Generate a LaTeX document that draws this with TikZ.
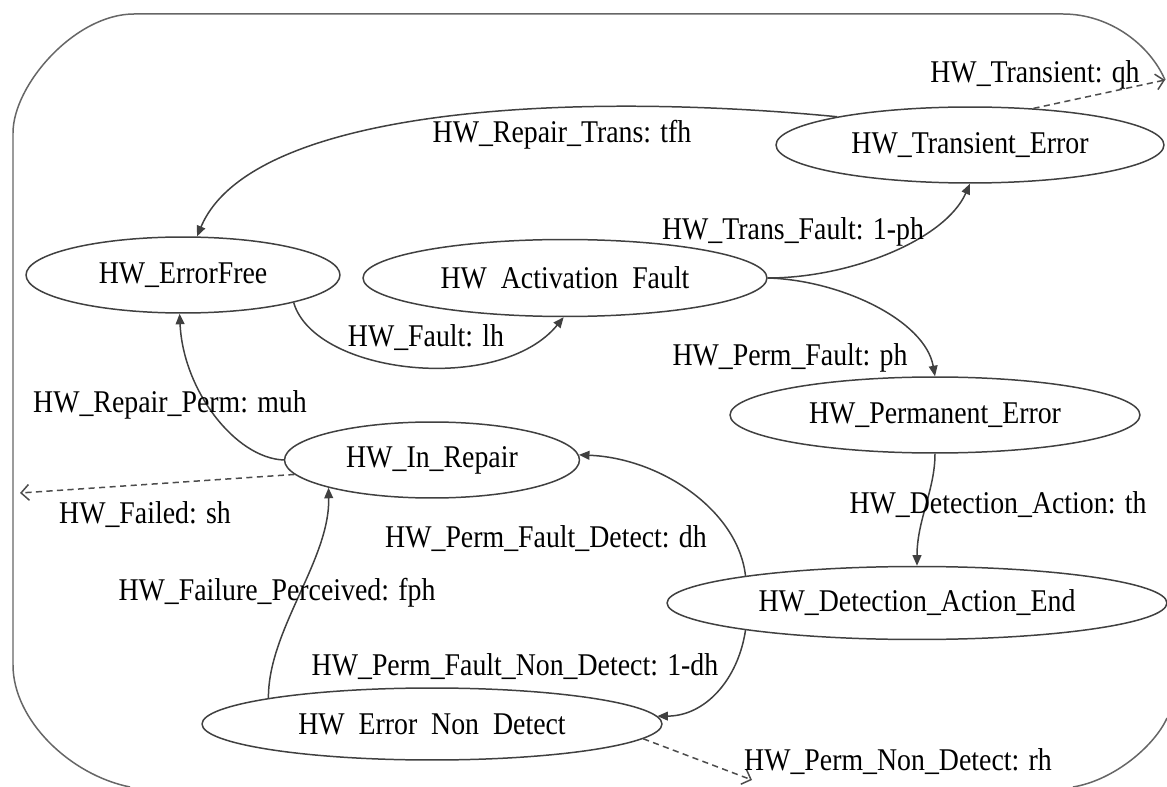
\documentclass[tikz,border=0pt]{standalone}
\usepackage{fontspec}
\setmainfont{Liberation Serif}
\usetikzlibrary{shapes.geometric,arrows.meta}
\newcommand\sx[1]{\scalebox{0.88}[1]{#1}}
\newcommand\fs{\fontsize{18pt}{20pt}\selectfont}
\begin{document}
\begin{tikzpicture}[x=0.02cm,y=-0.02cm,
  state/.style={ellipse, draw=black!75, line width=0.85pt, inner sep=0pt, font=\fs},
  edge/.style={draw=black!75, line width=0.85pt, -{Triangle[length=6pt,width=5pt]}},
  dedge/.style={draw=black!70, line width=0.85pt, dash pattern=on 3.5pt off 2.5pt, -{Straight Barb[length=4.5pt,width=9pt]}},
  frame/.style={draw=black!60, line width=0.85pt},
  lbl/.style={anchor=base, inner sep=0pt, font=\fs}]
\useasboundingbox (0,0) rectangle (1167,787);
\fill[white] (0,0) rectangle (1167,787);

% states
\node[state, minimum width=6.28cm, minimum height=1.52cm] (ef)  at (183,275) {\sx{HW\_ErrorFree}};
\node[state, minimum width=8.08cm, minimum height=1.54cm] (af)  at (565,278) {\sx{HW\ \ Activation\ \ Fault}};
\node[state, minimum width=7.76cm, minimum height=1.52cm] (te)  at (970,145) {\sx{HW\_Transient\_Error}};
\node[state, minimum width=8.2cm,  minimum height=1.52cm] (pe)  at (935,415) {\sx{HW\_Permanent\_Error}};
\node[state, minimum width=5.9cm,  minimum height=1.52cm] (ir)  at (432,460) {\sx{HW\_In\_Repair}};
\node[state, minimum width=10.0cm, minimum height=1.46cm] (dae) at (917,603) {\sx{HW\_Detection\_Action\_End}};
\node[state, minimum width=9.2cm,  minimum height=1.44cm] (end) at (432,724) {\sx{HW\ \ Error\ \ Non\ \ Detect}};

% free ends
\coordinate (qh) at (1165,80);
\coordinate (sh) at (20,493);
\coordinate (rh) at (752,780);

% outer frame
\draw[frame] (130,787) .. controls (70,775) and (13,720) .. (13,665) -- (13,133)
  .. controls (13,85) and (75,14) .. (134,14) -- (1063,14)
  .. controls (1110,14) and (1150,45) .. (qh);
\draw[frame] (1167,718) .. controls (1155,745) and (1115,780) .. (1073,787);

% edges
\draw[edge] (te.168) .. controls (560,90) and (250,110) .. (ef.70);
\draw[dedge] (te.30) -- (qh);
\draw[edge] (af.east) .. controls (850,278) and (945,240) .. (te.270);
\draw[edge] (af.east) .. controls (840,280) and (925,320) .. (pe.90);
\draw[edge] (ef.-14) .. controls (315,375) and (500,395) .. (af.268);
\draw[edge] (ir.180) .. controls (235,458) and (183,390) .. (ef.265);
\draw[dedge] (ir.186) -- (sh);
\draw[edge] (end.171) .. controls (268,630) and (330,560) .. (ir.195);
\draw[edge] (dae.171) .. controls (738,510) and (660,458) .. (ir.2);
\draw[edge] (pe.270) .. controls (935,490) and (917,520) .. (dae.90);
\draw[edge] (dae.189) .. controls (738,680) and (705,716) .. (end.2);
\draw[dedge] (end.-4.5) -- (rh);

% labels
\node[lbl] (l1)  at (562,143) {\sx{HW\_Repair\_Trans: tfh}};
\node[lbl] (l2)  at (1035,83) {\sx{HW\_Transient: qh}};
\node[lbl] (l3)  at (793,240) {\sx{HW\_Trans\_Fault: 1-ph}};
\node[lbl] (l4)  at (790,365) {\sx{HW\_Perm\_Fault: ph}};
\node[lbl] (l5)  at (426,347) {\sx{HW\_Fault: lh}};
\node[lbl] (l6)  at (170,413) {\sx{HW\_Repair\_Perm: muh}};
\node[lbl] (l7)  at (145,523) {\sx{HW\_Failed: sh}};
\node[lbl] (l8)  at (277,600) {\sx{HW\_Failure\_Perceived: fph}};
\node[lbl] (l9)  at (546,547) {\sx{HW\_Perm\_Fault\_Detect: dh}};
\node[lbl] (l10) at (998,513) {\sx{HW\_Detection\_Action: th}};
\node[lbl] (l11) at (515,675) {\sx{HW\_Perm\_Fault\_Non\_Detect: 1-dh}};
\node[lbl] (l12) at (898,770) {\sx{HW\_Perm\_Non\_Detect: rh}};
\end{tikzpicture}
\end{document}
